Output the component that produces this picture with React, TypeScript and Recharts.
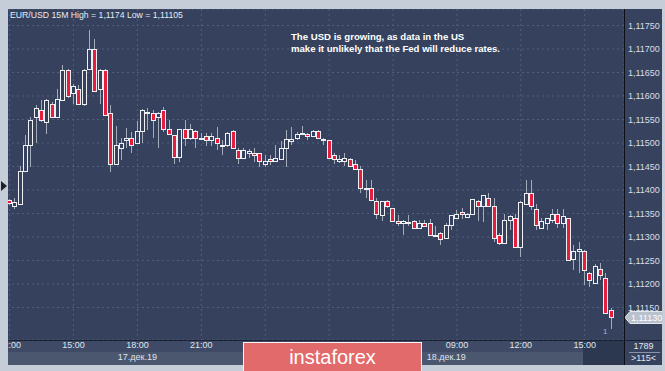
import React from "react";
import {
  ComposedChart,
  Bar,
  XAxis,
  YAxis,
  CartesianGrid,
  ReferenceLine,
} from "recharts";

// EUR/USD 15M candles, 17.12.19 12:00 -> 18.12.19 16:15
const opens = [
  1.11379, 1.11366, 1.1137, 1.1144, 1.11495, 1.11556, 1.1157, 1.11545, 1.11584, 1.11556,
  1.11591, 1.11655, 1.11606, 1.11615, 1.11584, 1.11657, 1.117, 1.11615, 1.11655, 1.11564,
  1.11455, 1.11489, 1.11506, 1.1151, 1.11499, 1.11526, 1.11563, 1.11564, 1.11556, 1.1157,
  1.11529, 1.11517, 1.1147, 1.11529, 1.1151, 1.11526, 1.1151, 1.11515, 1.11506, 1.1151,
  1.11496, 1.11496, 1.11526, 1.11485, 1.11469, 1.11478, 1.11479, 1.11478, 1.11455, 1.11465,
  1.11462, 1.11467, 1.11489, 1.11505, 1.1151, 1.1152, 1.1152, 1.11515, 1.11526, 1.11508,
  1.11506, 1.11474, 1.11462, 1.11462, 1.11465, 1.11455, 1.11444, 1.11403, 1.11405, 1.11377,
  1.11346, 1.11376, 1.11361, 1.11335, 1.11329, 1.1133, 1.11335, 1.11319, 1.1133, 1.11329,
  1.11304, 1.11309, 1.11297, 1.11326, 1.1134, 1.11354, 1.11343, 1.11348, 1.11377, 1.11366,
  1.11384, 1.11366, 1.11304, 1.11288, 1.11336, 1.1134, 1.11279, 1.1137, 1.11393, 1.11359,
  1.11319, 1.1133, 1.11336, 1.11349, 1.11329, 1.1134, 1.11253, 1.1127, 1.1127, 1.11223,
  1.11203, 1.11233, 1.11213, 1.11145,
];
const highs = [
  1.11381, 1.11383, 1.11452, 1.11517, 1.11556, 1.11581, 1.11591, 1.11593, 1.11587, 1.11615,
  1.11666, 1.11657, 1.11626, 1.11623, 1.11657, 1.1174, 1.11721, 1.11657, 1.11657, 1.11581,
  1.11536, 1.1151, 1.11531, 1.11524, 1.11547, 1.11572, 1.11574, 1.1157, 1.11566, 1.11577,
  1.1155, 1.11518, 1.1153, 1.1155, 1.1154, 1.11527, 1.11521, 1.11522, 1.11521, 1.11534,
  1.11506, 1.11524, 1.11527, 1.11489, 1.11489, 1.11488, 1.11489, 1.11479, 1.11474, 1.11474,
  1.11496, 1.11504, 1.11528, 1.11535, 1.11524, 1.11536, 1.11522, 1.11528, 1.11527, 1.1151,
  1.11507, 1.11479, 1.11474, 1.11479, 1.11469, 1.11464, 1.11451, 1.11421, 1.11421, 1.11382,
  1.11377, 1.11379, 1.11362, 1.11347, 1.11336, 1.11347, 1.11336, 1.11336, 1.11336, 1.11338,
  1.11323, 1.11311, 1.11329, 1.11347, 1.11357, 1.11361, 1.11351, 1.11381, 1.11378, 1.1139,
  1.11394, 1.11382, 1.11308, 1.1135, 1.11346, 1.1135, 1.11377, 1.11421, 1.11421, 1.1137,
  1.1134, 1.11341, 1.11359, 1.11359, 1.11359, 1.11341, 1.11283, 1.1129, 1.11272, 1.11226,
  1.11242, 1.11244, 1.11223, 1.1115,
];
const lows = [
  1.11368, 1.1136, 1.11369, 1.11439, 1.1145, 1.115, 1.11545, 1.11519, 1.11554, 1.11555,
  1.11589, 1.11595, 1.11584, 1.11583, 1.11579, 1.11655, 1.1161, 1.11584, 1.11559, 1.11439,
  1.11453, 1.11464, 1.11489, 1.11478, 1.11498, 1.11499, 1.11528, 1.1151, 1.11489, 1.11524,
  1.11518, 1.11455, 1.1146, 1.11494, 1.11506, 1.11489, 1.11506, 1.11494, 1.11494, 1.11485,
  1.11474, 1.11492, 1.11488, 1.11455, 1.11467, 1.11468, 1.1146, 1.1145, 1.1145, 1.11453,
  1.11461, 1.11464, 1.1145, 1.11496, 1.11506, 1.11519, 1.11506, 1.11514, 1.11509, 1.11496,
  1.11467, 1.11455, 1.11457, 1.11451, 1.1145, 1.11443, 1.11393, 1.11382, 1.11376, 1.11338,
  1.11334, 1.11361, 1.11332, 1.11323, 1.11304, 1.11323, 1.11317, 1.11318, 1.11322, 1.11303,
  1.11303, 1.11283, 1.11296, 1.11315, 1.11339, 1.11338, 1.1134, 1.11347, 1.11334, 1.11333,
  1.11365, 1.1129, 1.11283, 1.11287, 1.11315, 1.11278, 1.11258, 1.11369, 1.11357, 1.11315,
  1.11316, 1.11315, 1.11329, 1.11319, 1.11319, 1.1125, 1.1123, 1.11223, 1.11198, 1.11194,
  1.11202, 1.11209, 1.11136, 1.11105,
];
const closes = [
  1.11372, 1.11375, 1.1144, 1.11495, 1.1155, 1.11574, 1.1155, 1.11591, 1.11556, 1.11594,
  1.11655, 1.11601, 1.11621, 1.11584, 1.11655, 1.117, 1.11611, 1.11655, 1.1156, 1.11455,
  1.11495, 1.11499, 1.1151, 1.11496, 1.11526, 1.1157, 1.11565, 1.1155, 1.11564, 1.11529,
  1.11519, 1.1147, 1.11529, 1.1151, 1.11529, 1.1151, 1.11511, 1.11506, 1.11515, 1.11499,
  1.11495, 1.11521, 1.11489, 1.11469, 1.11485, 1.11484, 1.11474, 1.11462, 1.11461, 1.11461,
  1.11469, 1.11489, 1.11509, 1.11508, 1.1152, 1.11521, 1.11515, 1.11526, 1.1151, 1.11509,
  1.11469, 1.11465, 1.11465, 1.11469, 1.11451, 1.11444, 1.11404, 1.11405, 1.11378, 1.11348,
  1.11376, 1.11365, 1.11335, 1.11329, 1.11335, 1.11331, 1.11319, 1.11329, 1.11324, 1.11304,
  1.11305, 1.11295, 1.11326, 1.11346, 1.11349, 1.11348, 1.11349, 1.1138, 1.11366, 1.11389,
  1.11366, 1.11297, 1.11288, 1.11336, 1.11345, 1.11279, 1.11375, 1.11393, 1.11366, 1.11326,
  1.11335, 1.1134, 1.11349, 1.11329, 1.11345, 1.11251, 1.1127, 1.11274, 1.1123, 1.11209,
  1.11239, 1.11219, 1.11138, 1.1113,
];

// 3-hour grid ticks; the night ones sit under the logo and carry no label
const timeTicks = [
  "17 12:00", "17 15:00", "17 18:00", "17 21:00", "18 00:00",
  "18 03:00", "18 06:00", "18 09:00", "18 12:00", "18 15:00",
];
const hiddenTimeTicks = ["18 00:00", "18 03:00", "18 06:00"];
const dateTicks = ["17 18:00", "18 08:30"];
const dateLabels: Record<string, string> = {
  "17 18:00": "17.дек.19",
  "18 08:30": "18.дек.19",
};
const priceTicks = [
  1.1115, 1.112, 1.1125, 1.113, 1.1135, 1.114, 1.1145, 1.115, 1.1155, 1.116,
  1.1165, 1.117, 1.1175,
];
const lastPrice = 1.1113;

const pad = (n: number) => String(n).padStart(2, "0");
// 15 minute slots starting 17.12 12:00
const slotKey = (i: number) => {
  const m = 12 * 60 + i * 15;
  const day = 17 + Math.floor(m / 1440);
  const mm = m % 1440;
  return `${day} ${pad(Math.floor(mm / 60))}:${pad(mm % 60)}`;
};

const data = opens.map((open, i) => ({
  t: slotKey(i),
  open,
  high: highs[i],
  low: lows[i],
  close: closes[i],
}));

const FONT = '"Liberation Sans", Arial, sans-serif';
const PLOT_BG = "#35415d";
const FRAME = "#c5cdd8";
const RED = "#e41e3c";

const Candle = (props: any) => {
  const { x, y, width, height, payload } = props;
  if (!payload || height == null || isNaN(y)) return null;
  const { open, close, high, low } = payload;
  const top = Math.min(y, y + height);
  const h = Math.abs(height);
  const k = h / (high - low);
  const py = (v: number) => top + (high - v) * k;
  const c = Math.floor(x + width / 2);
  const up = close >= open;
  const bTop = Math.round(py(Math.max(open, close)));
  const bBot = Math.round(py(Math.min(open, close)));
  return (
    <g>
      <line
        x1={c + 0.5}
        x2={c + 0.5}
        y1={Math.round(top)}
        y2={Math.round(top + h)}
        stroke="#a4acb9"
        strokeWidth={1}
      />
      <rect
        x={c - 1.5}
        y={bTop + 0.5}
        width={4}
        height={Math.max(bBot - bTop, 1)}
        fill={up ? PLOT_BG : RED}
        stroke="#eef0f4"
        strokeWidth={1}
      />
    </g>
  );
};

const PriceTag = (props: any) => {
  const vb = props.viewBox || {};
  const x0 = vb.x + vb.width;
  const yc = Math.round(vb.y) + 0.5;
  return (
    <g>
      <polygon
        points={`${x0 + 1},${yc} ${x0 + 6},${yc - 6} ${x0 + 39},${yc - 6} ${x0 + 39},${yc + 6} ${x0 + 6},${yc + 6}`}
        fill="#b9c1cd"
        stroke="#e3e7ed"
      />
      <text x={x0 + 7} y={yc + 3.5} fontSize={9} fontFamily={FONT} fill="#ffffff">
        {lastPrice.toFixed(5).replace(".", ",")}
      </text>
    </g>
  );
};

const abs = (left: number, top: number, extra: React.CSSProperties = {}): React.CSSProperties => ({
  position: "absolute",
  left,
  top,
  ...extra,
});

export default function App() {
  return (
    <div
      style={{
        position: "absolute",
        left: 0,
        top: 0,
        width: 665,
        height: 371,
        background: FRAME,
        overflow: "hidden",
        fontFamily: FONT,
      }}
    >
      {/* panels */}
      <div style={abs(8, 9, { width: 616, height: 331, background: PLOT_BG })} />
      <div style={abs(625, 9, { width: 37, height: 356, background: "#36425e" })} />
      <div style={abs(8, 340, { width: 575, height: 12, background: "#3e4a66" })} />
      <div style={abs(8, 352, { width: 575, height: 13, background: "#4b566f" })} />
      <div style={abs(583, 340, { width: 41, height: 25, background: "#2c3750" })} />

      <div style={abs(0, 0)}>
        <ComposedChart
          width={665}
          height={371}
          data={data}
          margin={{ top: 9, right: 3, bottom: 6, left: 7 }}
        >
          <CartesianGrid stroke="#51607f" strokeDasharray="2 3" />
          <XAxis
            dataKey="t"
            ticks={timeTicks}
            interval={0}
            padding={{ left: 0, right: 10 }}
            height={12}
            tickSize={0}
            tickMargin={2}
            axisLine={false}
            tickLine={false}
            tickFormatter={(v: string) => (hiddenTimeTicks.includes(v) ? "" : v.slice(3))}
            tick={{ fill: "#dfe4ec", fontSize: 9, fontFamily: FONT }}
          />
          <XAxis
            xAxisId="date"
            dataKey="t"
            ticks={dateTicks}
            interval={0}
            padding={{ left: 0, right: 10 }}
            height={13}
            tickSize={0}
            tickMargin={2}
            axisLine={false}
            tickLine={false}
            tickFormatter={(v: string) => dateLabels[v] || ""}
            tick={{ fill: "#dfe4ec", fontSize: 9, fontFamily: FONT }}
          />
          <YAxis
            orientation="right"
            type="number"
            domain={[1.110809, 1.117851]}
            allowDataOverflow
            ticks={priceTicks}
            interval={0}
            width={38}
            tickSize={2}
            tickMargin={2}
            axisLine={false}
            tickLine={false}
            tickFormatter={(v: number) => v.toFixed(5).replace(".", ",")}
            tick={{ fill: "#d9dfe8", fontSize: 9, fontFamily: FONT }}
          />
          <Bar
            dataKey={(d: any) => [d.low, d.high]}
            shape={<Candle />}
            isAnimationActive={false}
          />
          <ReferenceLine y={lastPrice} stroke="none" label={<PriceTag />} />
        </ComposedChart>
      </div>

      {/* frame strips and separators */}
      <div style={abs(0, 0, { width: 8, height: 371, background: FRAME })} />
      <div style={abs(0, 0, { width: 665, height: 9, background: FRAME })} />
      <div style={abs(662, 0, { width: 3, height: 371, background: FRAME })} />
      <div style={abs(0, 365, { width: 665, height: 6, background: FRAME })} />
      <div style={abs(624, 9, { width: 1, height: 356, background: "#0c0f15" })} />
      <div style={abs(8, 340, { width: 654, height: 1, background: "#1a2131" })} />
      <div style={abs(629, 352, { width: 31, height: 1, background: "#8a94a6" })} />
      <div
        style={abs(1, 181, {
          width: 0,
          height: 0,
          borderTop: "5px solid transparent",
          borderBottom: "5px solid transparent",
          borderLeft: "6px solid #1d222b",
        })}
      />

      {/* texts */}
      <div style={abs(10, 10, { fontSize: 8.7, color: "#e6ebf2", whiteSpace: "nowrap" })}>
        EUR/USD 15M High = 1,1174 Low = 1,11105
      </div>
      <div
        style={abs(291, 31, {
          fontSize: 9.6,
          fontWeight: 700,
          color: "#ffffff",
          lineHeight: "12px",
          whiteSpace: "nowrap",
        })}
      >
        The USD is growing, as data in the US
        <br />
        make it unlikely that the Fed will reduce rates.
      </div>
      <div style={abs(603, 327, { fontSize: 8, color: "#9fb4d8" })}>1</div>
      <div style={abs(625, 341, { width: 37, textAlign: "center", fontSize: 9, color: "#e3e8ef" })}>
        1789
      </div>
      <div style={abs(625, 353, { width: 37, textAlign: "center", fontSize: 9, color: "#e3e8ef" })}>
        &gt;115&lt;
      </div>

      {/* logo */}
      <div
        style={abs(243, 342, {
          width: 177,
          height: 31,
          background: "#e26a6a",
          border: "1px solid #f3f3f3",
          color: "#ffffff",
          fontSize: 20,
          lineHeight: "28px",
          textAlign: "center",
          letterSpacing: 0,
        })}
      >
        instaforex
      </div>
    </div>
  );
}
